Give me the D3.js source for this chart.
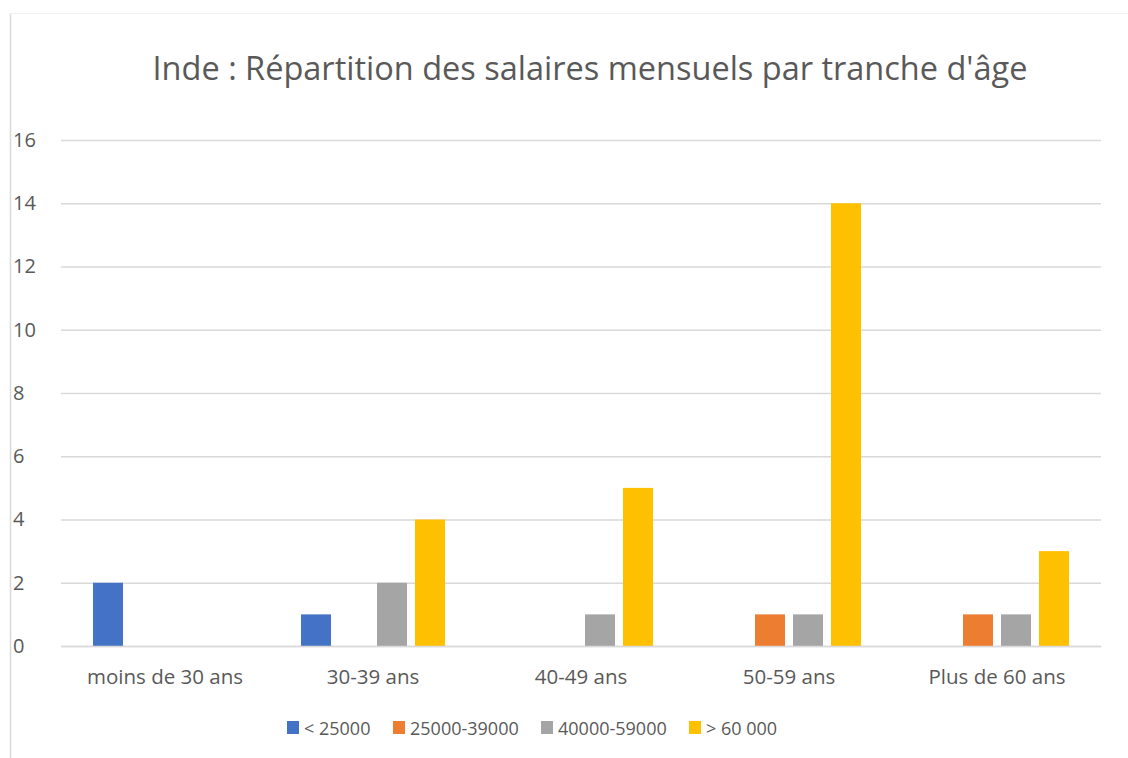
<!DOCTYPE html>
<html>
<head>
<meta charset="utf-8">
<script src="https://cdn.jsdelivr.net/npm/d3@7"></script>
<style>
  body { margin: 0; background: #fff; }
  text { font-family: "Open Sans", "Liberation Sans", sans-serif; fill: #595959; }
</style>
</head>
<body>
<div id="chart"></div>
<script>
// Data
var categories = ["moins de 30 ans", "30-39 ans", "40-49 ans", "50-59 ans", "Plus de 60 ans"];
var seriesNames = ["< 25000", "25000-39000", "40000-59000", "> 60 000"];
var below25000 = [2, 1, 0, 0, 0];
var from25to39 = [0, 0, 0, 1, 1];
var from40to59 = [0, 2, 1, 1, 1];
var above60000 = [0, 4, 5, 14, 3];
var yTicks = [0, 2, 4, 6, 8, 10, 12, 14, 16];
var colors = ["#4472C4", "#ED7D31", "#A5A5A5", "#FFC000"];

var seriesValues = [below25000, from25to39, from40to59, above60000];

var svgWidth = 1128;
var svgHeight = 758;

var margin = { top: 140, right: 27, bottom: 112, left: 61 };
var width = svgWidth - margin.left - margin.right;
var height = svgHeight - margin.top - margin.bottom;

var svg = d3.select("#chart")
    .append("svg")
    .attr("width", svgWidth)
    .attr("height", svgHeight);

// frame lines
svg.append("line")
    .attr("x1", 10.5).attr("x2", 10.5)
    .attr("y1", 13).attr("y2", svgHeight)
    .attr("stroke", "#d9d9d9").attr("stroke-width", 1.5);
svg.append("line")
    .attr("x1", 10).attr("x2", svgWidth)
    .attr("y1", 13.5).attr("y2", 13.5)
    .attr("stroke", "#f0f0f0").attr("stroke-width", 1);

// title
svg.append("text")
    .attr("x", 590)
    .attr("y", 80)
    .attr("text-anchor", "middle")
    .attr("font-size", "32.5px")
    .text("Inde : Répartition des salaires mensuels par tranche d'âge");

var chartGroup = svg.append("g")
    .attr("transform", `translate(${margin.left}, ${margin.top})`);

var x0 = d3.scaleBand()
    .domain(categories)
    .range([0, width])
    .padding(0);

var groupW = 144;
var x1 = d3.scaleBand()
    .domain(d3.range(seriesNames.length))
    .range([(x0.bandwidth() - groupW) / 2, (x0.bandwidth() + groupW) / 2])
    .paddingInner(8 / 38)
    .paddingOuter(0);

var y = d3.scaleLinear()
    .domain([0, 16])
    .range([height, 0]);

// gridlines
var grid = chartGroup.append("g")
    .call(d3.axisLeft(y).tickValues(yTicks).tickSize(-width).tickFormat(""));
grid.select(".domain").remove();
grid.selectAll("line").attr("stroke", "#d9d9d9").attr("stroke-width", 1.3);

// y axis labels
var yAxis = chartGroup.append("g")
    .call(d3.axisLeft(y).tickValues(yTicks).tickSize(0));
yAxis.select(".domain").remove();
yAxis.selectAll("text")
    .attr("font-size", "20px")
    .attr("text-anchor", "start")
    .attr("x", -48)
    .style("font-family", "'Open Sans', sans-serif")
    .attr("fill", "#595959");

// bars
var groups = chartGroup.selectAll(".cat")
    .data(categories)
    .enter()
    .append("g")
    .attr("transform", d => `translate(${x0(d)},0)`);

groups.selectAll("rect")
    .data((d, i) => seriesValues.map((s, k) => ({ k: k, v: s[i] })))
    .enter()
    .append("rect")
    .filter(d => d.v > 0)
    .attr("x", d => x1(d.k))
    .attr("width", x1.bandwidth())
    .attr("y", d => y(d.v))
    .attr("height", d => height - y(d.v))
    .attr("fill", d => colors[d.k]);

// x axis
var xAxis = chartGroup.append("g")
    .attr("transform", `translate(0,${height})`)
    .call(d3.axisBottom(x0).tickSize(0).tickPadding(23));
xAxis.select(".domain").attr("stroke", "#d9d9d9").attr("stroke-width", 1.3);
xAxis.selectAll("text")
    .attr("font-size", "20.5px")
    .style("font-family", "'Open Sans', sans-serif")
    .attr("fill", "#595959");

// legend
var legendX = [287, 393, 541, 689];
var legend = svg.append("g");
seriesNames.forEach(function(name, i) {
    legend.append("rect")
        .attr("x", legendX[i])
        .attr("y", 721)
        .attr("width", 12)
        .attr("height", 13)
        .attr("fill", colors[i]);
    legend.append("text")
        .attr("x", legendX[i] + 17)
        .attr("y", 735)
        .attr("font-size", "18px")
        .text(name);
});
</script>
</body>
</html>
